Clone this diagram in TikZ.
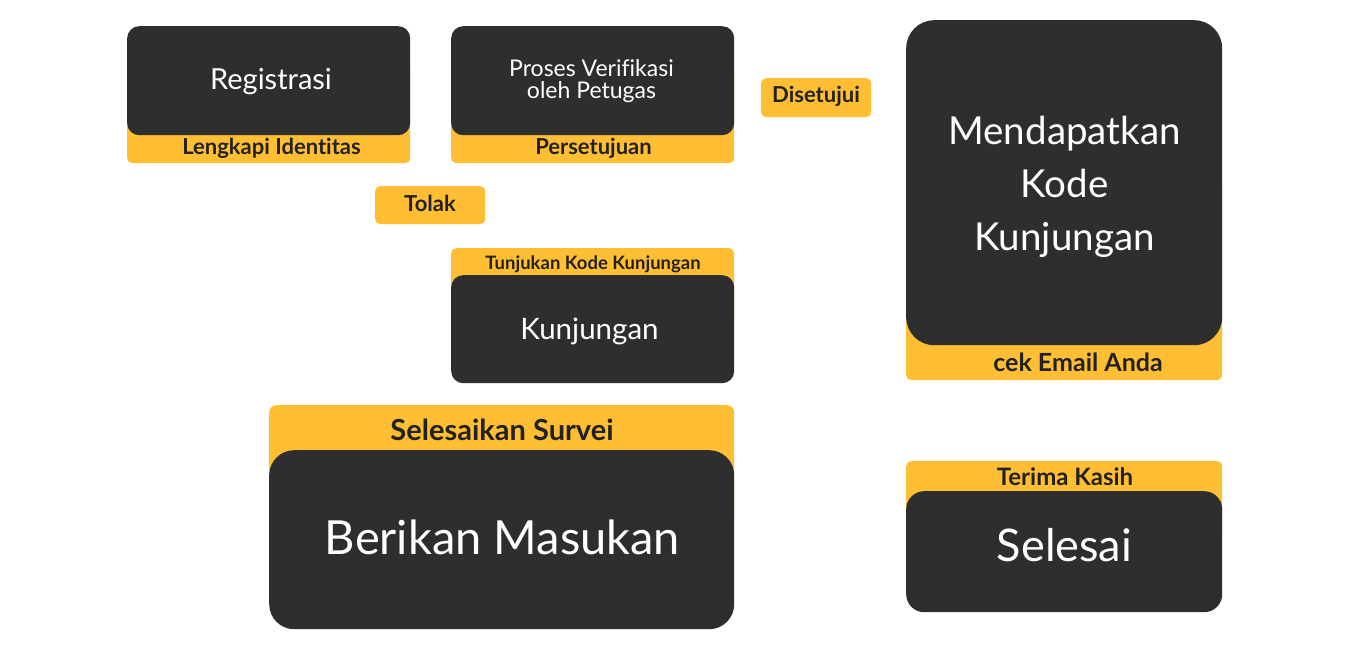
\documentclass[tikz,border=0pt]{standalone}
\usepackage{fontspec}
\setmainfont{Lato}[Ligatures={NoCommon,NoContextual}]
\definecolor{boxdark}{HTML}{2E2E2E}
\definecolor{boxyellow}{HTML}{FFBE33}
\definecolor{textdark}{HTML}{222222}
\tikzset{
  darkbox/.style={fill=boxdark, rounded corners=12pt, inner sep=0pt, anchor=north west},
  ybox/.style={fill=boxyellow, rounded corners=5pt, inner sep=0pt, anchor=north west},
  wtext/.style={text=white, inner sep=0pt, anchor=base},
  ylabel/.style={text=textdark, inner sep=0pt, anchor=base, font=\bfseries},
}
\newcommand{\fs}[1]{\fontsize{#1}{#1}\selectfont}
\begin{document}
\begin{tikzpicture}[x=1pt,y=-1pt]
\useasboundingbox[fill=white] (0,0) rectangle (1350,650);

% Registrasi
\node[ybox, minimum width=283pt, minimum height=100pt] (regy) at (127,63) {};
\node[darkbox, minimum width=283pt, minimum height=109pt] (reg) at (127,26) {};
\node[wtext, font=\fs{29}] (regt) at (271,90) {Registrasi};
\node[ylabel, font=\bfseries\fs{22}] (regl) at (271.5,155) {Lengkapi Identitas};

% Proses Verifikasi
\node[ybox, minimum width=283pt, minimum height=100pt] (very) at (451,63) {};
\node[darkbox, minimum width=283pt, minimum height=109pt] (ver) at (451,26) {};
\node[wtext, font=\fs{23}] (vert1) at (591.5,77) {Proses Verifikasi};
\node[wtext, font=\fs{23}] (vert2) at (591.5,98.5) {oleh Petugas};
\node[ylabel, font=\bfseries\fs{22}] (verl) at (593.5,155) {Persetujuan};

% Disetujui
\node[ybox, minimum width=110pt, minimum height=39pt] (setuju) at (761,78) {};
\node[ylabel, font=\bfseries\fs{22}] (setujut) at (816,103) {Disetujui};

% Tolak
\node[ybox, minimum width=110pt, minimum height=38pt] (tolak) at (375,186) {};
\node[ylabel, font=\bfseries\fs{22}] (tolakt) at (430,211.5) {Tolak};

% Kunjungan
\node[ybox, minimum width=283pt, minimum height=80pt] (kuny) at (451,248) {};
\node[darkbox, minimum width=283pt, minimum height=108pt] (kun) at (451,275) {};
\node[wtext, font=\fs{29.5}] (kunt) at (589.5,339.5) {Kunjungan};
\node[ylabel, font=\bfseries\fs{18.5}] (kunl) at (593,269.5) {Tunjukan Kode Kunjungan};

% Berikan Masukan
\node[ybox, minimum width=465pt, minimum height=120pt, rounded corners=7pt] (masy) at (269,405) {};
\node[darkbox, minimum width=465pt, minimum height=179pt, rounded corners=25pt] (mas) at (269,450) {};
\node[wtext, font=\fs{47}] (mast) at (502.5,554) {Berikan Masukan};
\node[ylabel, font=\bfseries\fs{29}] (masl) at (502,440) {Selesaikan Survei};

% Mendapatkan Kode Kunjungan
\node[ybox, minimum width=316pt, minimum height=200pt] (kody) at (906,180) {};
\node[darkbox, minimum width=316pt, minimum height=325pt, rounded corners=28pt] (kod) at (906,20) {};
\node[wtext, font=\fs{38.5}] (kodt1) at (1064.5,145) {Mendapatkan};
\node[wtext, font=\fs{38.5}] (kodt2) at (1064.5,197) {Kode};
\node[wtext, font=\fs{38.5}] (kodt3) at (1064.5,250) {Kunjungan};
\node[ylabel, font=\bfseries\fs{25}] (kodl) at (1078,371) {cek Email Anda};

% Selesai
\node[ybox, minimum width=316pt, minimum height=80pt] (seley) at (906,461) {};
\node[darkbox, minimum width=316pt, minimum height=121pt, rounded corners=18pt] (sele) at (906,491) {};
\node[wtext, font=\fs{45}] (selet) at (1064.5,561.5) {Selesai};
\node[ylabel, font=\bfseries\fs{24}] (selel) at (1065,485) {Terima Kasih};
\end{tikzpicture}
\end{document}
